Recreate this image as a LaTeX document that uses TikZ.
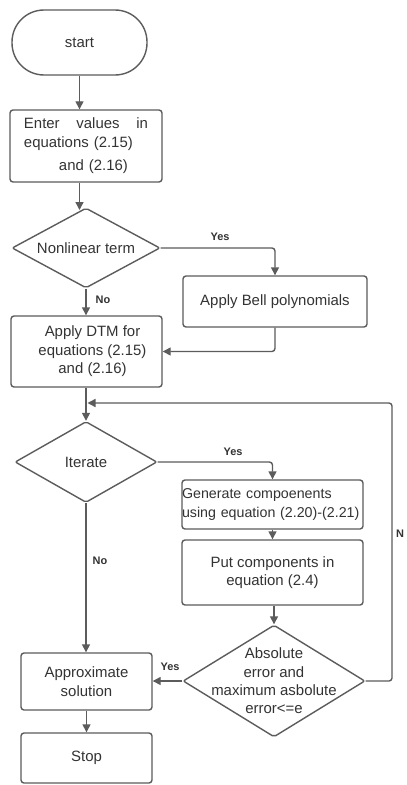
\documentclass[tikz,border=0pt]{standalone}
\usepackage{fontspec}
\setmainfont{Liberation Sans}
\usetikzlibrary{shapes.geometric,arrows.meta}
\definecolor{ln}{HTML}{5C5C5C}
\definecolor{tx}{HTML}{333333}
\begin{document}
\begin{tikzpicture}[x=1bp,y=-1bp,
  every node/.style={text=tx},
  box/.style={draw=ln, line width=1.4bp, rounded corners=3bp, fill=white, inner sep=0pt, align=center, font=\fontsize{15}{18.5}\selectfont},
  dia/.style={draw=ln, line width=1.4bp, shape=diamond, inner sep=0pt, fill=white, rounded corners=2bp},
  txt/.style={align=center, font=\fontsize{15}{18.5}\selectfont, text=tx},
  arr/.style={draw=ln, line width=1.4bp, -{Triangle[length=8bp,width=8bp]}, rounded corners=3bp},
  lab/.style={font=\bfseries\fontsize{11}{13}\selectfont, text=tx, inner sep=0pt}]
\useasboundingbox[fill=white] (0,0) rectangle (406,785);

\node[box, rounded corners=32bp, minimum width=135bp, minimum height=65bp] (start) at (79.5,42.5) {start};
\node[box, minimum width=152bp, minimum height=72bp, text width=124bp, align=left] (enter) at (86,146)
  {Enter\hfill values\hfill in\\equations (2.15)\\[5bp]\hspace*{35bp}and (2.16)};
\node[dia, minimum width=148bp, minimum height=80bp, label={[txt]center:Nonlinear term}] (nonlin) at (86,248) {};
\node[box, minimum width=184bp, minimum height=51bp] (bell) at (275,301.5) {Apply Bell polynomials};
\node[box, minimum width=151bp, minimum height=71bp, label={[txt, xshift=6bp]center:Apply DTM for\\equations (2.15)\\and (2.16)}] (dtm) at (86.5,351.5) {};
\node[dia, minimum width=142bp, minimum height=81bp, label={[txt]center:Iterate}] (iter) at (86,462) {};
\node[box, minimum width=181bp, minimum height=49bp, text width=181bp, align=left, font=\fontsize{14.3}{19}\selectfont] (gen) at (272.5,504.5)
  {Generate compoenents\\using equation (2.20)-(2.21)};
\node[box, minimum width=181bp, minimum height=65bp] (put) at (272.5,572.5) {Put components in\\equation (2.4)};
\node[dia, minimum width=182bp, minimum height=112bp, label={[txt]center:Absolute\\error and\\maximum asbolute\\error<=e}] (abs) at (274,681) {};
\node[box, minimum width=131bp, minimum height=57bp] (approx) at (86.5,681.5) {Approximate\\solution};
\node[box, minimum width=131bp, minimum height=50bp] (stop) at (86.5,758) {Stop};

\coordinate (loopin) at (87.5,403);

\draw[arr] (start.south) -- (start.south |- enter.north);
\draw[arr] (start.south |- enter.south) -- (79.5,210);
\draw[arr] (nonlin.south) -- (nonlin.south |- dtm.north);
\draw[arr] (nonlin.east) -- (bell.north |- nonlin.east) -- (bell.north);
\draw[arr] (bell.south) -- (bell.south |- dtm.east) -- (dtm.east);
\draw[arr] (dtm.south -| iter.north) -- (iter.north);
\draw[arr] (iter.east) -- (gen.north |- iter.east) -- (gen.north);
\draw[arr] (gen.south) -- (put.north);
\draw[arr] (put.south -| abs.north) -- (abs.north);
\draw[arr] (abs.east) -- (392,681) -- (392,403) -- (loopin);
\draw[arr] (abs.west) -- (approx.east |- abs.west);
\draw[arr] (iter.south) -- (iter.south |- approx.north);
\draw[arr] (approx.south) -- (stop.north);

\node[lab] (y1) at (220,237) {Yes};
\node[lab] (n1) at (103,300) {No};
\node[lab] (y2) at (233,452) {Yes};
\node[lab] (n2) at (100,561) {No};
\node[lab] (y3) at (170,667) {Yes};
\node[lab, anchor=west] (n3) at (396,534) {N};
\end{tikzpicture}
\end{document}
